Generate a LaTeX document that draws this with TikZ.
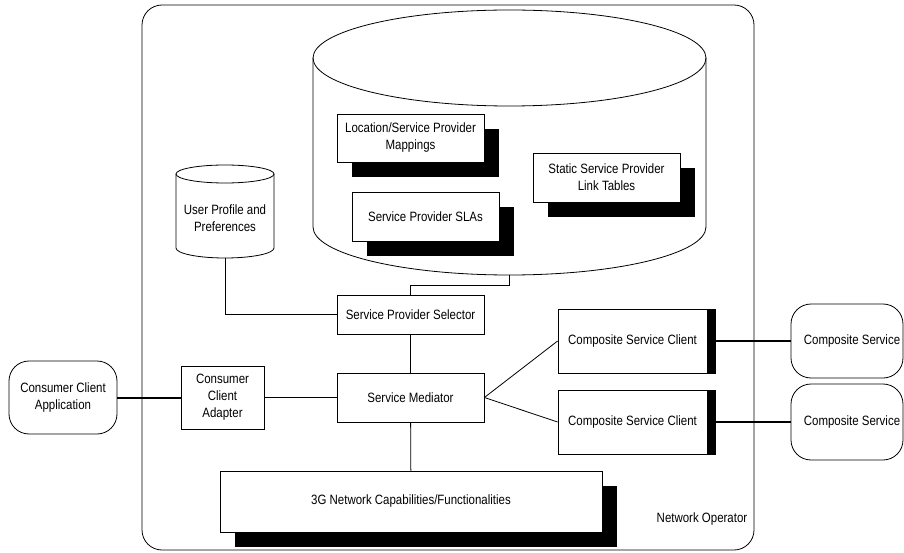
\documentclass[tikz,border=0pt]{standalone}
\usepackage{fontspec}
\setmainfont[FakeStretch=0.85]{Liberation Sans}
\usetikzlibrary{shadows}

\tikzset{
  box/.style={draw, fill=white, align=center, inner sep=2pt},
  shadowbox/.style={box, drop shadow={shadow xshift=15pt, shadow yshift=-15pt, opacity=1, fill=black}},
  roundbox/.style={box, rounded corners=20pt},
  link/.style={draw, line width=0.8pt},
  thicklink/.style={draw, line width=2pt},
}

\begin{document}
\begin{tikzpicture}[x=1pt, y=-1pt, font=\fontsize{13.5}{17}\selectfont, line width=0.8pt]
    \useasboundingbox (0,0) rectangle (904,553);

    %% network operator frame
    \draw[rounded corners=20pt] (142,5) rectangle (754,550);
    \node[anchor=east] (oplabel) at (751,519) {Network Operator};

    %% big data store
    \draw[fill=white] (313,58) -- (313,227) arc[start angle=180, end angle=360, x radius=196.5pt, y radius=48pt] -- (706,58);
    \draw (509.5,58) ellipse[x radius=196.5pt, y radius=48pt];
    \coordinate (dbbot) at (509.5,275);

    \node[shadowbox, minimum width=147, minimum height=48] (map) at (410.5,138)
      {Location/Service Provider\\Mappings};
    \node[shadowbox, minimum width=147, minimum height=49] (sla) at (425.5,216.5)
      {Service Provider SLAs};
    \node[shadowbox, minimum width=147, minimum height=49] (tables) at (606.5,177.5)
      {Static Service Provider\\Link Tables};

    %% user profile store
    \draw[fill=white] (176,174) -- (176,248) arc[start angle=180, end angle=360, x radius=49pt, y radius=10pt] -- (274,174);
    \draw (225,174) ellipse[x radius=49pt, y radius=9pt];
    \node[align=center] (prof) at (225,218) {User Profile and\\Preferences};
    \coordinate (profbot) at (225,258);

    %% middle column
    \node[box, minimum width=147, minimum height=39] (sel) at (410.5,314.5) {Service Provider Selector};
    \node[box, minimum width=147, minimum height=49] (med) at (410.5,397.5) {Service Mediator};
    \node[box, minimum width=83, minimum height=63] (adap) at (222.5,397.5) {Consumer\\Client\\Adapter};
    \node[roundbox, minimum width=108, minimum height=73] (app) at (63,397.5) {Consumer Client\\Application};
    \node[shadowbox, minimum width=382, minimum height=61] (net) at (411,501.5)
      {3G Network Capabilities/Functionalities};

    %% composite side
    \node[box, minimum width=157, minimum height=64] (csc1) at (636.5,341) {Composite Service Client\hspace{8pt}};
    \node[box, minimum width=157, minimum height=64] (csc2) at (636.5,422) {Composite Service Client\hspace{8pt}};
    \fill (csc1.north east) rectangle ([xshift=-8pt]csc1.south east);
    \fill (csc2.north east) rectangle ([xshift=-8pt]csc2.south east);
    \node[roundbox, minimum width=112, minimum height=74] (cs1) at (847,341) {\hspace{10pt}Composite Service};
    \node[roundbox, minimum width=112, minimum height=76] (cs2) at (847,422) {\hspace{10pt}Composite Service};

    %% connectors
    \draw[link] (profbot) |- (sel.west);
    \draw[link] (dbbot) -- ++(0,10) -| (sel.north);
    \draw[link] (sel) -- (med);
    \draw[link] (med) -- (net);
    \draw[link] (adap) -- (med);
    \draw[thicklink] (app) -- (adap);
    \draw[link] (med.east) -- (csc1.west);
    \draw[link] (med.east) -- (csc2.west);
    \draw[thicklink] (csc1) -- (cs1);
    \draw[thicklink] (csc2) -- (cs2);
  \end{tikzpicture}
\end{document}
